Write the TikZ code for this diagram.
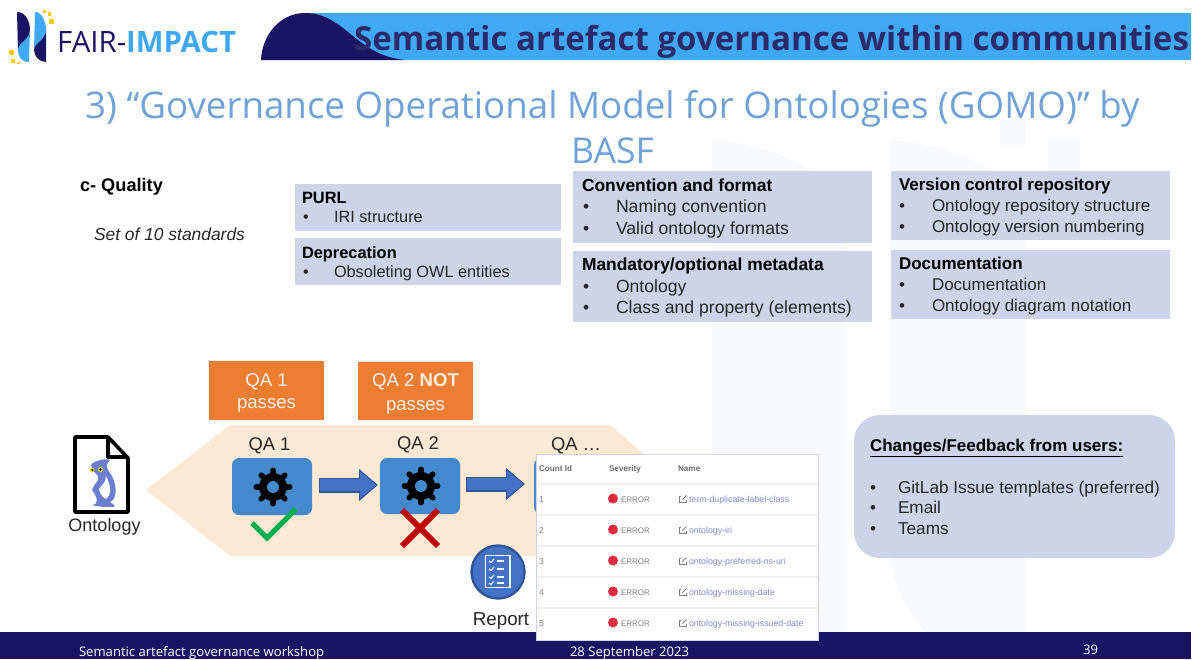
\documentclass[tikz,border=0pt]{standalone}
\usepackage{fontspec}
\setmainfont{Liberation Sans}
\newfontfamily\osans{Open Sans}
\usetikzlibrary{fit,arrows.meta}
\definecolor{navy}{HTML}{1B1464}
\definecolor{skyb}{HTML}{3FA9F5}
\definecolor{headtxt}{HTML}{2B2A6B}
\definecolor{titleb}{HTML}{6FA3D8}
\definecolor{boxb}{HTML}{CDD3E9}
\definecolor{peach}{HTML}{FDE9D3}
\definecolor{orng}{HTML}{ED7D31}
\definecolor{qab}{HTML}{4489CE}
\definecolor{arrf}{HTML}{4472C4}
\definecolor{arrd}{HTML}{2F5597}
\definecolor{owl}{HTML}{6A7FD0}
\definecolor{wm}{HTML}{F8F9FC}
\definecolor{lnk}{HTML}{7F87D6}
\definecolor{gtx}{HTML}{808080}
\definecolor{linec}{HTML}{F0F0F0}
\definecolor{bodyt}{HTML}{262626}
\definecolor{dotr}{HTML}{E32B40}
\definecolor{gold}{HTML}{FFC90E}
\definecolor{okgreen}{HTML}{00B050}
\definecolor{nored}{HTML}{C00000}
\definecolor{orgtxt}{HTML}{FDF1E8}
\newcommand{\fsz}[1]{\fontsize{#1}{#1}\selectfont}
\tikzset{
  x=1pt,y=-1pt,
  tx/.style={anchor=base west,inner sep=0pt,outer sep=0pt,text=bodyt,font=\fsz{17}},
  txm/.style={tx,font=\fsz{17.6}},
  txs/.style={tx,font=\fsz{16.3}},
  hd/.style={tx,font=\fsz{17}\bfseries,text=black},
  hdm/.style={tx,font=\fsz{17.4}\bfseries,text=black},
  hds/.style={tx,font=\fsz{16.4}\bfseries,text=black},
  txc/.style={anchor=base,inner sep=0pt,outer sep=0pt,text=bodyt,font=\fsz{18.4}},
  otx/.style={txc,text=orgtxt,font=\fsz{18.6}},
  box/.style={fill=boxb,draw=none,inner sep=0pt,outer sep=0pt},
  qabox/.style={fill=qab,draw=none,rounded corners=7pt,inner sep=0pt,outer sep=0pt},
  obox/.style={fill=orng,draw=none,inner sep=0pt,outer sep=0pt},
  tb/.style={anchor=base west,inner sep=0pt,outer sep=0pt,text=gtx,font=\fsz{8.6}},
  tbe/.style={tb,font=\fsz{8}},
  tbh/.style={tb,font=\fsz{8.2}\bfseries,text=gtx!85!black},
  tbl/.style={tb,text=lnk,font=\fsz{8.8}},
  foot/.style={anchor=base west,inner sep=0pt,outer sep=0pt,text=white,font=\osans\fsz{13.1}},
}
\newcommand{\geartop}[1]{%
  \foreach \a in {0,45,...,315}{\draw[black,line width=5.6pt,line cap=round] (#1) ++(\a:11) -- ++(\a:5.6);}
  \fill[black] (#1) circle[radius=14pt];
  \fill[qab] (#1) circle[radius=6pt];
}
\newcommand{\tbrow}[3]{%
  \node[tb] (cid#1) at (539,#2) {#1};
  \fill[dotr] (613,#2-3.5) circle[radius=5pt];
  \node[tbe] (err#1) at (621,#2) {ERROR};
  \draw[gtx,line width=.9pt] (681,#2-5.5) -- (679,#2-5.5) -- (679,#2+.5) -- (686,#2+.5) -- (686,#2-2);
  \draw[gtx,line width=.9pt] (682.5,#2-2.5) -- (686.5,#2-6.5);
  \node[tbl] (nm#1) at (689,#2) {#3};
}
\begin{document}
\begin{tikzpicture}
\path[use as bounding box,fill=white] (0,0) rectangle (1197,659);
% watermark
\fill[wm] (712,632) -- (712,140) .. controls (770,145) and (820,165) .. (845,205) -- (845,632) -- cycle;
\fill[wm] (891,558) -- (891,140) .. controls (950,145) and (1000,165) .. (1025,205) -- (1025,632) -- (925,632) .. controls (905,605) and (893,585) .. (891,558) -- cycle;
\fill[wm] (1000,120) rectangle (1025,145);
\fill[wm] (1048,140) rectangle (1080,240);
% header
\fill[skyb] (305,13) rectangle (1191,60);
\fill[navy] (261,60) .. controls (262,35) and (280,13) .. (305,13) .. controls (345,13) and (355,55) .. (405,60) -- cycle;
\node[anchor=base west,inner sep=0pt,text=headtxt,font=\osans\bfseries\fsz{33.05}] (headtitle) at (354,50) {Semantic artefact governance within communities};
% logo
\fill[navy] (17,12) .. controls (26,12) and (30,22) .. (30,30) .. controls (30,40) and (19,42) .. (18,50) -- cycle;
\fill[skyb] (29,62) .. controls (21,62) and (18,56) .. (18,50) .. controls (19,42) and (30,40) .. (30,30) -- cycle;
\fill[skyb] (35,12) .. controls (42,12) and (46,22) .. (46,30) .. controls (46,40) and (35,42) .. (34,50) -- cycle;
\fill[navy] (46,62) .. controls (39,62) and (34,56) .. (34,50) .. controls (35,42) and (46,40) .. (46,30) -- cycle;
\fill[gold] (49,19) rectangle (54,24);
\fill[gold] (43,10) rectangle (46,13);
\fill[gold] (48,12) rectangle (51,16);
\fill[gold] (9,50) rectangle (14,55);
\fill[gold] (11,59) rectangle (15,63);
\fill[gold] (17,62) rectangle (20,64);
\node[anchor=base west,inner sep=0pt,font=\osans\fsz{29.4}] (logotext) at (57,52) {\textcolor{navy}{FAIR-}\textcolor{skyb}{\bfseries IMPACT}};
% title
\node[anchor=base west,inner sep=0pt,text=titleb,font=\osans\fsz{36.7}] (title1) at (85,118) {3) “Governance Operational Model for Ontologies (GOMO)” by};
\node[anchor=base west,inner sep=0pt,text=titleb,font=\osans\fsz{35.6}] (title2) at (571,163) {BASF};
% left labels
\node[hd,font=\fsz{18.2}\bfseries] (cq) at (80,191) {c- Quality};
\node[tx,font=\fsz{17.4}\itshape] (setten) at (94,240) {Set of 10 standards};
% boxes
\node[box,fit={(295,184)(561,231)}] (purl) {};
\node[box,fit={(295,238)(561,285)}] (depr) {};
\node[box,fit={(573,171)(872,243)}] (conv) {};
\node[box,fit={(573,251)(872,322)}] (mand) {};
\node[box,fit={(891,171)(1170,240)}] (vers) {};
\node[box,fit={(891,250)(1170,319)}] (docu) {};
\node[hds] (t1) at (302,203) {PURL};
\node[txs] (b1) at (303,222) {•};
\node[txs] (t2) at (334,222) {IRI structure};
\node[hds] (t3) at (302,258) {Deprecation};
\node[txs] (b2) at (303,277) {•};
\node[txs] (t4) at (334,277) {Obsoleting OWL entities};
\node[hdm] (t5) at (582,191) {Convention and format};
\node[txm] (b3) at (583,212) {•};
\node[txm] (t6) at (616,212) {Naming convention};
\node[txm] (b4) at (583,234) {•};
\node[txm] (t7) at (616,234) {Valid ontology formats};
\node[hdm] (t8) at (582,270) {Mandatory/optional metadata};
\node[txm] (b5) at (583,292) {•};
\node[txm] (t9) at (616,292) {Ontology};
\node[txm] (b6) at (583,313) {•};
\node[txm] (t10) at (616,313) {Class and property (elements)};
\node[hd] (t11) at (899,190) {Version control repository};
\node[tx] (b7) at (899,211) {•};
\node[tx] (t12) at (932,211) {Ontology repository structure};
\node[tx] (b8) at (899,232) {•};
\node[tx] (t13) at (932,232) {Ontology version numbering};
\node[hd] (t14) at (899,269) {Documentation};
\node[tx] (b9) at (899,290) {•};
\node[tx] (t15) at (932,290) {Documentation};
\node[tx] (b10) at (899,311) {•};
\node[tx] (t16) at (932,311) {Ontology diagram notation};
% orange
\node[obox,fit={(209,361)(324,420)}] (o1) {};
\node[obox,fit={(358,362)(473,420)}] (o2) {};
\node[otx] (o1a) at (266.5,386) {QA 1};
\node[otx] (o1b) at (266.5,408) {passes};
\node[otx] (o2a) at (415.5,386) {QA 2 \textbf{NOT}};
\node[otx] (o2b) at (415.5,410) {passes};
% peach
\fill[peach] (146,490) -- (230,425) -- (610,425) -- (685,490) -- (610,556) -- (230,556) -- cycle;
\node[txc] (qa1) at (269.5,450) {QA 1};
\node[txc] (qa2) at (418,449) {QA 2};
\node[tx,font=\fsz{18.4}] (qa3) at (551,450) {QA …};
\node[qabox,fit={(232,458)(312,515)}] (box1) {};
\node[qabox,fit={(380,458)(460,514)}] (box2) {};
\node[qabox,fit={(534,458)(610,514)}] (box3) {};
\geartop{273,487}
\geartop{421,486}
\draw[arrd,line width=15pt,-{Triangle[length=19pt,width=31pt]},shorten <=7pt,shorten >=2pt] (box1.east |- 0,485) -- (box2.west |- 0,485);
\draw[arrd,line width=15pt,-{Triangle[length=19pt,width=31pt]},shorten <=6pt,shorten >=9pt] (box2.east |- 0,484) -- (box3.west |- 0,484);
\draw[arrf,line width=12.6pt,-{Triangle[length=16.5pt,width=26pt]},shorten <=8pt,shorten >=3.5pt] (box1.east |- 0,485) -- (box2.west |- 0,485);
\draw[arrf,line width=12.6pt,-{Triangle[length=16.5pt,width=26pt]},shorten <=7pt,shorten >=10.5pt] (box2.east |- 0,484) -- (box3.west |- 0,484);
% check / cross
\draw[okgreen,line width=5.2pt] (252,523) -- (267,538) -- (296,509);
\draw[nored,line width=6pt] (402,510) -- (438,546) (438,510) -- (402,546);
% ontology icon
\draw[black,line width=3.6pt,line join=round] (75,437) -- (108,437) -- (128,458) -- (128,512) -- (75,512) -- cycle;
\draw[black,line width=3.2pt,line join=round] (108,437) -- (108,457) -- (128,457);
\fill[owl] (91,465) .. controls (94,460) and (108,458) .. (110,460) .. controls (104,466) and (108,470) .. (112,476) .. controls (118,488) and (116,500) .. (110,502) .. controls (115,505) and (116,507) .. (114,507) .. controls (106,507) and (98,507) .. (92,505) .. controls (100,504) and (97,497) .. (92,490) .. controls (94,483) and (100,481) .. (98,476) .. controls (95,473) and (92,470) .. (91,465) -- cycle;
\fill[white] (99,489) .. controls (103,484) and (106,482) .. (106,476) .. controls (111,486) and (112,494) .. (106,499) .. controls (102,497) and (100,493) .. (99,489) -- cycle;
\fill[yellow!80!orange] (92,470) circle[radius=2.4pt] (100.5,469.5) circle[radius=2.6pt];
\fill[black] (92.5,470) circle[radius=1.1pt] (100.5,469.5) circle[radius=1.3pt];
\node[txc,font=\fsz{18}] (ontlab) at (104.5,531) {Ontology};
% report
\node[circle,fill=arrf,draw=arrd,line width=2.4pt,minimum size=53pt,inner sep=0pt] (rep) at (498,572) {};
\draw[white,line width=1.2pt,fill=arrf] (485.5,555.5) rectangle (510,587.5);
\foreach \yy in {561,569,577,583}{
  \draw[white,line width=1pt] (489,\yy) -- (491,\yy+1.5) -- (494,\yy-2);
  \draw[white,line width=1.2pt] (497,\yy) -- (504,\yy);
}
\node[txc,font=\fsz{18.8}] (replab) at (501,625) {Report};
% changes
\node[fill=boxb,draw=none,rounded corners=26pt,inner sep=0pt,fit={(854,415)(1175,558)}] (chg) {};
\node[hd] (c0) at (870,451) {\underline{Changes/Feedback from users:}};
\node[tx,font=\fsz{17.2}] (c1b) at (870,493) {•};
\node[tx,font=\fsz{17.2}] (c1) at (898,493) {GitLab Issue templates (preferred)};
\node[tx,font=\fsz{17.2}] (c2b) at (870,513) {•};
\node[tx,font=\fsz{17.2}] (c2) at (898,513) {Email};
\node[tx,font=\fsz{17.2}] (c3b) at (870,534) {•};
\node[tx,font=\fsz{17.2}] (c3) at (898,534) {Teams};
% footer
\fill[navy] (0,632) rectangle (1191,659);
\node[foot] (f1) at (79,656) {Semantic artefact governance workshop};
\node[foot] (f2) at (570,656) {28 September 2023};
\node[foot] (f3) at (1083,654) {39};
% table
\node[fill=white,draw=boxb,line width=.6pt,inner sep=0pt,fit={(536,454)(818,640)}] (tabl) {};
\foreach \yy in {484,515,546,577,608}{\draw[linec,line width=1.2pt] (536.5,\yy) -- (817.5,\yy);}
\node[tbh] (h1) at (539,471) {Count Id};
\node[tbh] (h2) at (609,471) {Severity};
\node[tbh] (h3) at (678,471) {Name};
\tbrow{1}{502}{term-duplicate-label-class}
\tbrow{2}{533}{ontology-iri}
\tbrow{3}{564}{ontology-preferred-ns-uri}
\tbrow{4}{595}{ontology-missing-date}
\tbrow{5}{626}{ontology-missing-issued-date}
\end{tikzpicture}
\end{document}
